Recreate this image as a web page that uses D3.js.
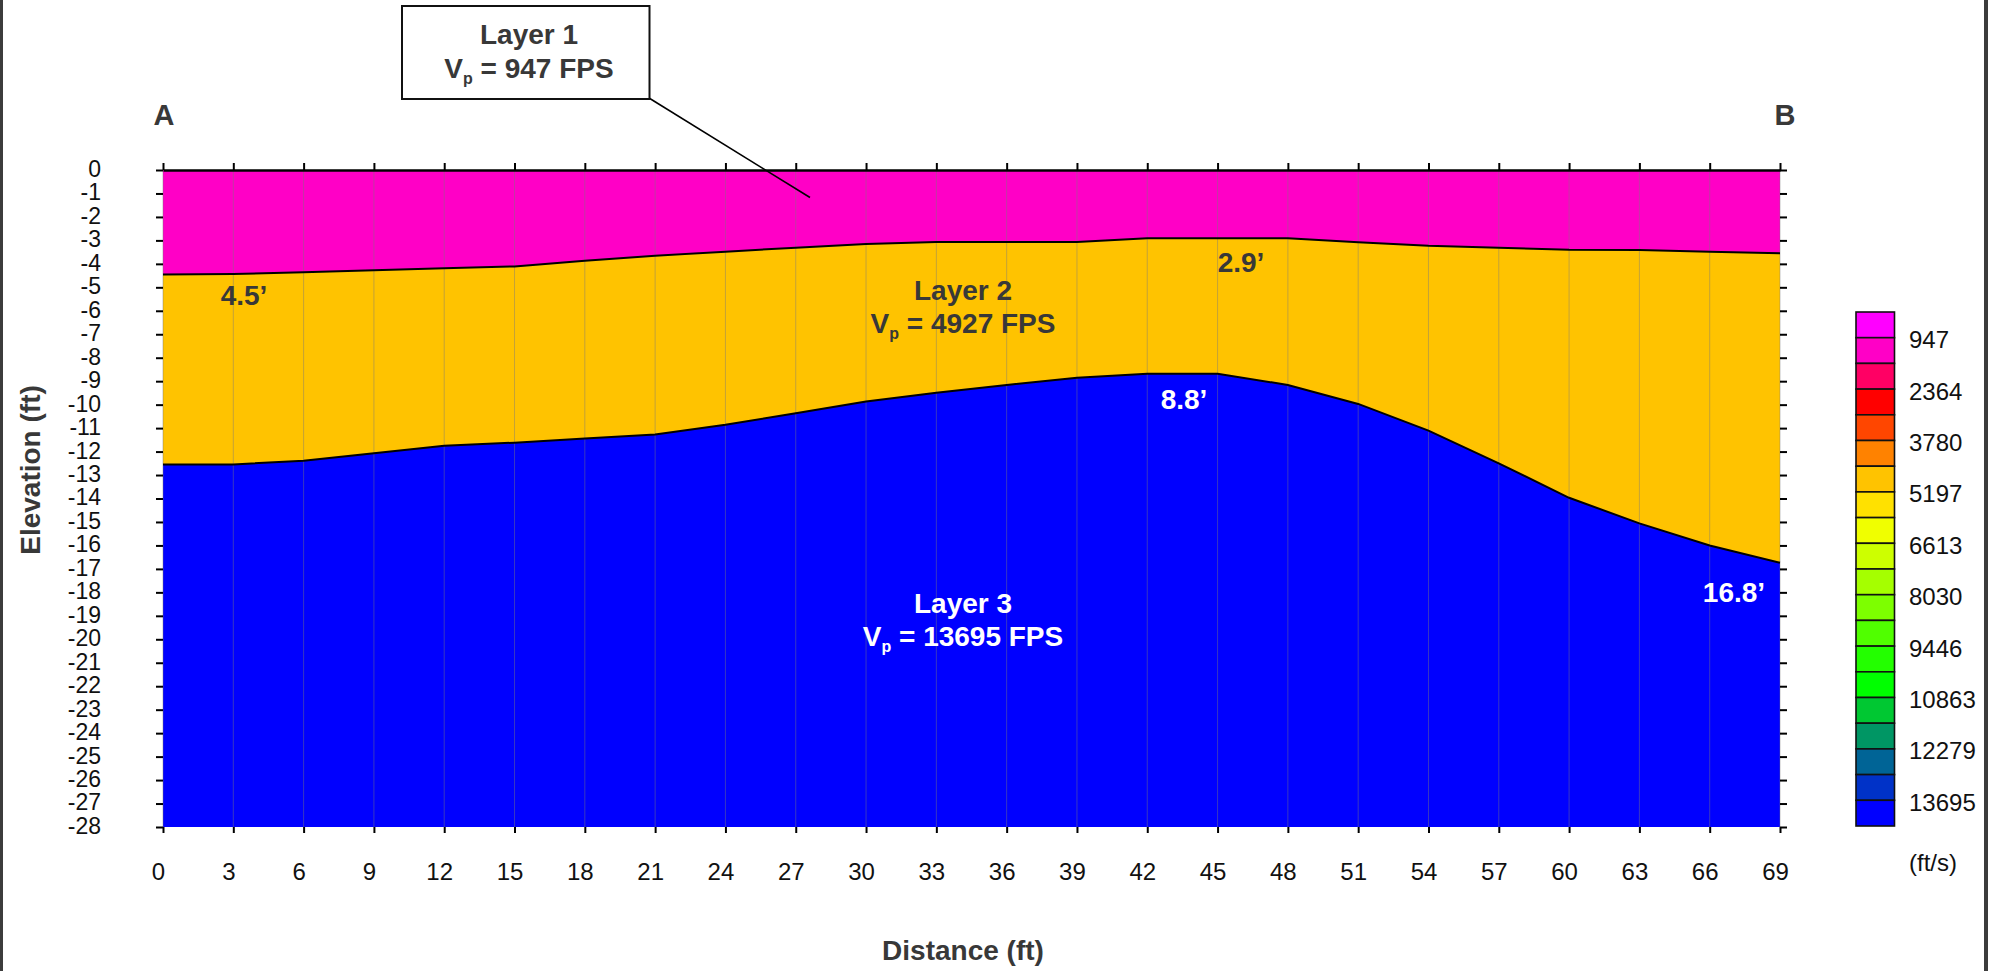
<!DOCTYPE html>
<html><head><meta charset="utf-8">
<script src="https://cdn.jsdelivr.net/npm/d3@7"></script>
<style>body{margin:0;background:#fff}svg{display:block}</style>
</head><body>
<svg id="c" width="1998" height="971"></svg>
<script>
// ---------- data ----------
const distances   = [0,3,6,9,12,15,18,21,24,27,30,33,36,39,42,45,48,51,54,57,60,63,66,69];
const layer1Base  = [-4.45,-4.43,-4.36,-4.27,-4.19,-4.11,-3.87,-3.65,-3.48,-3.31,-3.15,-3.07,-3.07,-3.07,-2.91,-2.91,-2.91,-3.08,-3.23,-3.31,-3.40,-3.41,-3.48,-3.55];
const layer2Base  = [-12.55,-12.55,-12.39,-12.07,-11.75,-11.62,-11.44,-11.27,-10.86,-10.37,-9.87,-9.49,-9.16,-8.85,-8.68,-8.68,-9.16,-9.97,-11.11,-12.50,-13.97,-15.06,-16.00,-16.74];
const surface     = 0;
const bottomElev  = -28;
const xTickValues = [0,3,6,9,12,15,18,21,24,27,30,33,36,39,42,45,48,51,54,57,60,63,66,69];
const yTickValues = [0,-1,-2,-3,-4,-5,-6,-7,-8,-9,-10,-11,-12,-13,-14,-15,-16,-17,-18,-19,-20,-21,-22,-23,-24,-25,-26,-27,-28];
const layerNames  = ["Layer 1","Layer 2","Layer 3"];
const layerVp     = [947, 4927, 13695];
const layerColors = ["#FF00C6","#FFC300","#0000FF"];
const legendColors = ["#FF00FF","#FF00C6","#FF0064","#FF0000","#FF4600","#FF8200","#FFC300","#FFE100",
                      "#F0FF00","#CDFF00","#A5FF00","#7DFF00","#50FF00","#23FF00","#00FF00","#00C832",
                      "#009664","#006496","#0032C8","#0000FF"];
const legendLabels = ["947","2364","3780","5197","6613","8030","9446","10863","12279","13695"];
const depthLabels  = ["4.5\u2019","2.9\u2019","8.8\u2019","16.8\u2019"];

// ---------- layout ----------
const svg = d3.select("#c");
const FONT = "'Liberation Sans', Arial, Helvetica, sans-serif";
const DARK = "#383838";
const x = d3.scaleLinear().domain([0,69]).range([163,1780]);
const y = d3.scaleLinear().domain([0,-28]).range([170,827]);

svg.append("rect").attr("width",1998).attr("height",971).attr("fill","#fff");
// frame bars
svg.append("rect").attr("x",0).attr("y",0).attr("width",3).attr("height",971).attr("fill","#3c3c3c");
svg.append("rect").attr("x",1984).attr("y",0).attr("width",4).attr("height",971).attr("fill","#3c3c3c");

const pts = distances.map((d,i)=>({d, b1:layer1Base[i], b2:layer2Base[i]}));
const areas = [
  d3.area().x(p=>x(p.d)).y0(()=>y(surface)).y1(p=>y(p.b1)),
  d3.area().x(p=>x(p.d)).y0(p=>y(p.b1)).y1(p=>y(p.b2)),
  d3.area().x(p=>x(p.d)).y0(p=>y(p.b2)).y1(()=>y(bottomElev))
];
areas.forEach((a,i)=>svg.append("path").attr("d",a(pts)).attr("fill",layerColors[i]));

// vertical grid
svg.append("g").selectAll("line").data(xTickValues).join("line")
  .attr("x1",d=>x(d)).attr("x2",d=>x(d)).attr("y1",y(0)).attr("y2",y(-28))
  .attr("stroke","#7a7a7a").attr("stroke-opacity",0.45).attr("stroke-width",1);

// boundaries
const line1 = d3.line().x(p=>x(p.d)).y(p=>y(p.b1));
const line2 = d3.line().x(p=>x(p.d)).y(p=>y(p.b2));
svg.append("path").attr("d",line1(pts)).attr("fill","none").attr("stroke","#000").attr("stroke-width",2);
svg.append("path").attr("d",line2(pts)).attr("fill","none").attr("stroke","#000").attr("stroke-width",2);

// axes
const gTop = svg.append("g").attr("transform",`translate(0,${y(0)})`)
  .call(d3.axisTop(x).tickValues(xTickValues).tickSize(7).tickSizeOuter(0).tickFormat(""));
gTop.select(".domain").attr("stroke","#000").attr("stroke-width",2.5);
gTop.selectAll(".tick line").attr("stroke","#000").attr("stroke-width",2);

const gBot = svg.append("g").attr("transform",`translate(0,${y(-28)})`)
  .call(d3.axisBottom(x).tickValues(xTickValues).tickSize(6).tickSizeOuter(0).tickPadding(30));
gBot.select(".domain").remove();
gBot.selectAll(".tick line").attr("stroke","#000").attr("stroke-width",2);
gBot.selectAll(".tick text").attr("font-family",FONT).attr("font-size",24).attr("fill","#111").attr("dx",-5);

const gLeft = svg.append("g").attr("transform",`translate(${x(0)},0)`)
  .call(d3.axisLeft(y).tickValues(yTickValues).tickSize(7).tickSizeOuter(0).tickPadding(55).tickFormat(d=>String(d)));
gLeft.select(".domain").remove();
gLeft.selectAll(".tick line").attr("stroke","#000").attr("stroke-width",2);
gLeft.selectAll(".tick text").attr("font-family",FONT).attr("font-size",23).attr("fill","#111").attr("dy","0.28em");

const gRight = svg.append("g").attr("transform",`translate(${x(69)},0)`)
  .call(d3.axisRight(y).tickValues(yTickValues).tickSize(7).tickSizeOuter(0).tickFormat(""));
gRight.select(".domain").remove();
gRight.selectAll(".tick line").attr("stroke","#000").attr("stroke-width",2);

// axis titles
svg.append("text").attr("x",963).attr("y",960).attr("text-anchor","middle")
  .attr("font-family",FONT).attr("font-weight","bold").attr("font-size",28).attr("fill",DARK).text("Distance (ft)");
svg.append("text").attr("transform","translate(40,470) rotate(-90)").attr("text-anchor","middle")
  .attr("font-family",FONT).attr("font-weight","bold").attr("font-size",28).attr("fill",DARK).text("Elevation (ft)");

// A / B
svg.append("text").attr("x",x(0)+1).attr("y",125).attr("text-anchor","middle")
  .attr("font-family",FONT).attr("font-weight","bold").attr("font-size",29).attr("fill",DARK).text("A");
svg.append("text").attr("x",x(69)+5).attr("y",125).attr("text-anchor","middle")
  .attr("font-family",FONT).attr("font-weight","bold").attr("font-size",29).attr("fill",DARK).text("B");

// layer labels
function layerLabel(cx, by, name, vp, color){
  const g = svg.append("g").attr("font-family",FONT).attr("font-weight","bold").attr("fill",color).attr("text-anchor","middle");
  g.append("text").attr("x",cx).attr("y",by).attr("font-size",28).text(name);
  const t = g.append("text").attr("x",cx).attr("y",by+33.5).attr("font-size",28);
  t.append("tspan").text("V");
  t.append("tspan").attr("font-size",16).attr("dy",6).text("p");
  t.append("tspan").attr("dy",-6).text(" = " + vp + " FPS");
}
// Layer 1 callout
svg.append("line").attr("x1",649).attr("y1",98).attr("x2",810).attr("y2",197.5).attr("stroke","#000").attr("stroke-width",1.6);
svg.append("rect").attr("x",402).attr("y",6).attr("width",247.5).attr("height",93).attr("fill","#fff").attr("stroke","#111").attr("stroke-width",2);
layerLabel(529, 44, layerNames[0], layerVp[0], DARK);
layerLabel(963, 299.5, layerNames[1], layerVp[1], DARK);
layerLabel(963, 612.5, layerNames[2], layerVp[2], "#fff");

// depth labels
const dl = [
  {t:depthLabels[0], x:244, y:305, c:DARK},
  {t:depthLabels[1], x:1241, y:272, c:DARK},
  {t:depthLabels[2], x:1184, y:409, c:"#fff"},
  {t:depthLabels[3], x:1734, y:602, c:"#fff"}
];
svg.append("g").selectAll("text").data(dl).join("text")
  .attr("x",d=>d.x).attr("y",d=>d.y).attr("text-anchor","middle")
  .attr("font-family",FONT).attr("font-weight","bold").attr("font-size",28).attr("fill",d=>d.c).text(d=>d.t);

// legend
const ly = d3.scaleLinear().domain([0,legendColors.length]).range([312,826]);
const lg = svg.append("g");
lg.selectAll("rect").data(legendColors).join("rect")
  .attr("x",1856).attr("y",(d,i)=>ly(i)).attr("width",38.5).attr("height",(d,i)=>ly(i+1)-ly(i))
  .attr("fill",d=>d).attr("stroke","#111").attr("stroke-width",1.6);
lg.selectAll("text").data(legendLabels).join("text")
  .attr("x",1909).attr("y",(d,i)=>ly(2*i+1)+2).attr("dominant-baseline","central")
  .attr("font-family",FONT).attr("font-size",24).attr("fill","#111").text(d=>d);
svg.append("text").attr("x",1909).attr("y",862).attr("dominant-baseline","central")
  .attr("font-family",FONT).attr("font-size",24).attr("fill","#111").text("(ft/s)");
</script>
</body></html>
